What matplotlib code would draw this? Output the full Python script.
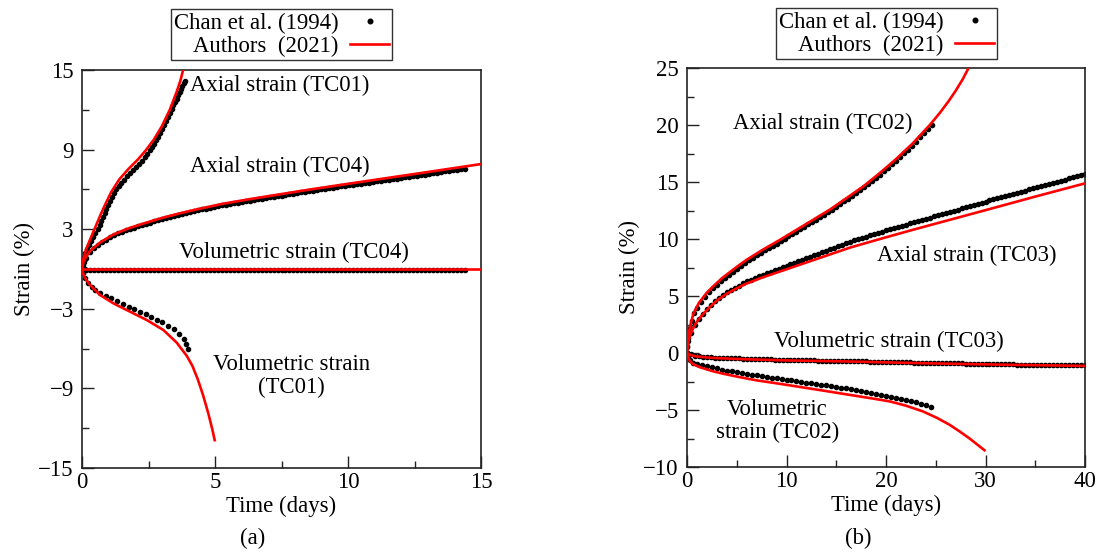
import matplotlib
matplotlib.use("Agg")
import matplotlib.pyplot as plt
from matplotlib.lines import Line2D
from matplotlib.ticker import MultipleLocator, FixedLocator

plt.rcParams['font.family'] = ['Liberation Serif', 'DejaVu Serif']
plt.rcParams['mathtext.fontset'] = 'stix'

# ---------------- Panel (a) data ----------------
# Chan et al. (1994) - TC01 axial
t_tc01_ax_dots = [0.0, 0.015, 0.04, 0.08, 0.13, 0.19, 0.26, 0.33, 0.41, 0.5, 0.6,
                  0.66, 0.72, 0.78, 0.85, 0.92, 0.99, 1.06, 1.13, 1.21, 1.28,
                  1.38, 1.48, 1.58, 1.69, 1.80, 1.91, 2.02, 2.13, 2.24, 2.35, 2.45, 2.54, 2.62,
                  2.70, 2.78, 2.86, 2.94, 3.02, 3.09, 3.16, 3.23, 3.30, 3.37, 3.43,
                  3.50, 3.56, 3.62, 3.67, 3.72, 3.77, 3.82, 3.86]
s_tc01_ax_dots = [0.0, 0.3, 0.6, 0.9, 1.2, 1.5, 1.8, 2.1, 2.4, 2.7, 3.0,
                  3.3, 3.6, 3.9, 4.2, 4.5, 4.8, 5.1, 5.4, 5.7, 6.0,
                  6.25, 6.5, 6.74, 6.98, 7.22, 7.45, 7.68, 7.92, 8.16, 8.42, 8.68, 8.95, 9.2,
                  9.45, 9.72, 9.98, 10.25, 10.55, 10.85, 11.15, 11.45, 11.75, 12.05, 12.35,
                  12.6, 12.85, 13.1, 13.35, 13.6, 13.8, 14.0, 14.2]
# Chan et al. (1994) - TC01 volumetric
t_tc01_vol_dots = [0.0, 0.05, 0.11, 0.24, 0.36, 0.49, 0.68, 0.90, 1.09, 1.30, 1.53, 1.75,
                   1.95, 2.18, 2.39, 2.59, 2.81, 3.01, 3.23, 3.46, 3.66, 3.82, 3.92, 3.97]
s_tc01_vol_dots = [0.0, -0.33, -0.70, -1.08, -1.33, -1.55, -1.80, -2.02, -2.20, -2.40, -2.62, -2.83,
                   -3.02, -3.22, -3.42, -3.62, -3.83, -4.03, -4.28, -4.56, -4.90, -5.28, -5.68, -6.03]
# Chan et al. (1994) - TC04
t_tc04_dots = [0.0, 0.02, 0.06, 0.1, 0.15, 0.3, 0.45, 0.6, 0.75, 0.9, 1.05, 1.2, 1.35, 1.5,
               1.65, 1.8, 1.95, 2.1, 2.25, 2.4, 2.55, 2.7, 2.85, 3.0, 3.15, 3.3, 3.45, 3.6,
               3.75, 3.9, 4.05, 4.2, 4.35, 4.5, 4.65, 4.8, 4.95, 5.1, 5.25, 5.4, 5.55, 5.7,
               5.85, 6.0, 6.15, 6.3, 6.45, 6.6, 6.75, 6.9, 7.05, 7.2, 7.35, 7.5, 7.65, 7.8,
               7.95, 8.1, 8.25, 8.4, 8.55, 8.7, 8.85, 9.0, 9.15, 9.3, 9.45, 9.6, 9.75, 9.9,
               10.05, 10.2, 10.35, 10.5, 10.65, 10.8, 10.95, 11.1, 11.25, 11.4, 11.55, 11.7,
               11.85, 12.0, 12.15, 12.3, 12.45, 12.6, 12.75, 12.9, 13.05, 13.2, 13.35, 13.5,
               13.65, 13.8, 13.95, 14.1, 14.25, 14.4]
s_tc04_ax_dots = [0.0, 0.3, 0.55, 0.72, 0.85, 1.30, 1.56, 1.82, 2.03, 2.20, 2.38, 2.56,
                  2.68, 2.80, 2.92, 3.04, 3.12, 3.22, 3.32, 3.41, 3.50, 3.59, 3.68, 3.76,
                  3.85, 3.93, 4.00, 4.08, 4.15, 4.22, 4.29, 4.36, 4.43, 4.49, 4.55, 4.61,
                  4.68, 4.74, 4.81, 4.86, 4.91, 4.95, 5.01, 5.06, 5.11, 5.16, 5.21, 5.26,
                  5.30, 5.34, 5.39, 5.44, 5.49, 5.54, 5.59, 5.63, 5.68, 5.73, 5.77, 5.82,
                  5.87, 5.91, 5.96, 6.00, 6.04, 6.08, 6.13, 6.17, 6.22, 6.26, 6.30, 6.34,
                  6.39, 6.43, 6.48, 6.52, 6.56, 6.60, 6.64, 6.69, 6.73, 6.77, 6.81, 6.86,
                  6.91, 6.95, 6.99, 7.03, 7.08, 7.12, 7.16, 7.21, 7.25, 7.30, 7.35, 7.39,
                  7.43, 7.47, 7.52, 7.56]
s_tc04_vol_dots = [0.0, -0.01, -0.02, -0.03, -0.04, -0.04, -0.05, -0.05, -0.05, -0.05,
                   -0.05, -0.05, -0.05, -0.05, -0.05, -0.05, -0.05, -0.05, -0.05, -0.05,
                   -0.05, -0.06, -0.05, -0.06, -0.06, -0.06, -0.06, -0.06, -0.06, -0.06,
                   -0.06, -0.06, -0.06, -0.06, -0.06, -0.06, -0.06, -0.06, -0.06, -0.06,
                   -0.06, -0.06, -0.06, -0.06, -0.06, -0.06, -0.06, -0.07, -0.06, -0.07,
                   -0.07, -0.07, -0.07, -0.07, -0.07, -0.07, -0.07, -0.07, -0.07, -0.07,
                   -0.07, -0.07, -0.07, -0.07, -0.07, -0.07, -0.07, -0.07, -0.07, -0.07,
                   -0.07, -0.07, -0.07, -0.07, -0.07, -0.07, -0.07, -0.07, -0.07, -0.07,
                   -0.07, -0.07, -0.07, -0.07, -0.07, -0.07, -0.07, -0.07, -0.07, -0.07,
                   -0.07, -0.07, -0.07, -0.07, -0.07, -0.07, -0.07, -0.07, -0.07, -0.07]
# Authors (2021) - model curves, panel (a)
t_tc01_ax_line = [0, 0.05, 0.15, 0.3, 0.5, 0.7, 0.9, 1.1, 1.4, 1.75, 2.1, 2.4, 2.7, 3.0,
                  3.3, 3.55, 3.7, 3.8, 3.85]
s_tc01_ax_line = [0, 0.75, 1.45, 2.2, 3.15, 4.1, 4.98, 5.8, 6.75, 7.55, 8.25, 8.95, 9.75, 10.75,
                  12.0, 13.3, 14.2, 15.0, 15.5]
t_tc01_vol_line = [0, 0.05, 0.15, 0.3, 0.43, 0.68, 1.18, 1.8, 2.43, 3.06, 3.56, 3.94, 4.15,
                   4.35, 4.55, 4.75, 4.9, 5.0]
s_tc01_vol_line = [0, -0.4, -0.8, -1.2, -1.46, -1.96, -2.59, -3.21, -3.84, -4.6, -5.55, -6.55,
                   -7.3, -8.3, -9.5, -10.9, -12.1, -13.0]
t_tc04_ax_line = [0, 0.05, 0.15, 0.3, 0.68, 1.18, 1.8, 2.43, 3.06, 3.68, 4.44, 5.3, 6.32,
                  8.5, 10.7, 12.9, 15.0]
s_tc04_ax_line = [0, 0.5, 0.9, 1.35, 2.0, 2.6, 3.1, 3.5, 3.88, 4.2, 4.55, 4.92, 5.27,
                  5.97, 6.63, 7.28, 7.91]
t_tc04_vol_line = [0, 15.0]
s_tc04_vol_line = [0, 0]

# ---------------- Panel (b) data ----------------
t_tc02_ax_dots = [0.0, 0.05, 0.15, 0.3, 0.5, 0.75, 1.0, 1.4, 1.8, 2.2, 2.6, 3.0, 3.4, 3.8,
                  4.2, 4.6, 5.0, 5.4, 5.8, 6.2, 6.6, 7.0, 7.4, 7.8, 8.2, 8.6, 9.0, 9.4, 9.8,
                  10.2, 10.6, 11.0, 11.4, 11.8, 12.2, 12.6, 13.0, 13.4, 13.8, 14.2, 14.6,
                  15.0, 15.4, 15.8, 16.2, 16.6, 17.0, 17.4, 17.8, 18.2, 18.6, 19.0, 19.4,
                  19.8, 20.2, 20.6, 21.0, 21.4, 21.8, 22.2, 22.6, 23.0, 23.4, 23.8, 24.2, 24.6]
s_tc02_ax_dots = [0.0, 0.6, 1.35, 2.15, 2.85, 3.5, 3.91, 4.48, 4.93, 5.32, 5.67, 5.99, 6.32,
                  6.60, 6.87, 7.13, 7.40, 7.66, 7.91, 8.14, 8.36, 8.58, 8.80, 9.00, 9.20,
                  9.40, 9.60, 9.81, 10.03, 10.24, 10.45, 10.65, 10.86, 11.07, 11.29, 11.50,
                  11.71, 11.92, 12.13, 12.34, 12.57, 12.81, 13.06, 13.30, 13.54, 13.78,
                  14.03, 14.27, 14.52, 14.80, 15.09, 15.37, 15.65, 15.95, 16.25, 16.55,
                  16.85, 17.18, 17.51, 17.84, 18.17, 18.53, 18.91, 19.29, 19.66, 20.04]
t_tc02_vol_dots = [0.0, 0.1, 0.3, 0.6, 1.0, 1.5, 2.0, 2.5, 3.0, 3.5, 4.0, 4.5, 5.0, 5.5,
                   6.0, 6.5, 7.0, 7.5, 8.0, 8.5, 9.0, 9.5, 10.0, 10.5, 11.0, 11.5, 12.0,
                   12.5, 13.0, 13.5, 14.0, 14.5, 15.0, 15.5, 16.0, 16.5, 17.0, 17.5, 18.0,
                   18.5, 19.0, 19.5, 20.0, 20.5, 21.0, 21.5, 22.0, 22.5, 23.0, 23.5, 24.0, 24.5]
s_tc02_vol_dots = [0.0, -0.3, -0.6, -0.85, -0.97, -1.05, -1.15, -1.25, -1.35, -1.45, -1.55,
                   -1.62, -1.69, -1.76, -1.83, -1.90, -1.97, -2.03, -2.10, -2.16, -2.22,
                   -2.29, -2.35, -2.41, -2.47, -2.53, -2.59, -2.66, -2.72, -2.78, -2.84,
                   -2.91, -2.98, -3.05, -3.11, -3.18, -3.25, -3.33, -3.41, -3.49, -3.57,
                   -3.65, -3.73, -3.82, -3.91, -4.00, -4.10, -4.20, -4.33, -4.46, -4.60, -4.77]
t_tc03_dots = [0.0, 0.05, 0.15,
               0.4, 0.8, 1.2, 1.6, 2.0, 2.4, 2.8, 3.2, 3.6, 4.0,
               4.4, 4.8, 5.2, 5.6, 6.0, 6.4, 6.8, 7.2, 7.6, 8.0,
               8.4, 8.8, 9.2, 9.6, 10.0, 10.4, 10.8, 11.2, 11.6, 12.0,
               12.4, 12.8, 13.2, 13.6, 14.0, 14.4, 14.8, 15.2, 15.6, 16.0,
               16.4, 16.8, 17.2, 17.6, 18.0, 18.4, 18.8, 19.2, 19.6, 20.0,
               20.4, 20.8, 21.2, 21.6, 22.0, 22.4, 22.8, 23.2, 23.6, 24.0,
               24.4, 24.8, 25.2, 25.6, 26.0, 26.4, 26.8, 27.2, 27.6, 28.0,
               28.4, 28.8, 29.2, 29.6, 30.0, 30.4, 30.8, 31.2, 31.6, 32.0,
               32.4, 32.8, 33.2, 33.6, 34.0, 34.4, 34.8, 35.2, 35.6, 36.0,
               36.4, 36.8, 37.2, 37.6, 38.0, 38.4, 38.8, 39.2, 39.6, 40.0]
s_tc03_ax_dots = [0.0, 0.55, 1.05,
                  1.74, 2.48, 3.02, 3.45, 3.84, 4.20, 4.54, 4.83, 5.08, 5.33,
                  5.53, 5.72, 5.92, 6.10, 6.28, 6.43, 6.58, 6.72, 6.86, 7.00,
                  7.13, 7.26, 7.39, 7.51, 7.65, 7.78, 7.91, 8.04, 8.17, 8.32,
                  8.45, 8.58, 8.71, 8.84, 8.98, 9.11, 9.23, 9.36, 9.49, 9.63,
                  9.76, 9.87, 9.98, 10.09, 10.20, 10.31, 10.42, 10.53, 10.64, 10.75,
                  10.86, 10.96, 11.06, 11.17, 11.27, 11.37, 11.48, 11.58, 11.68, 11.78,
                  11.88, 11.98, 12.09, 12.18, 12.29, 12.38, 12.48, 12.58, 12.68, 12.78,
                  12.88, 12.98, 13.08, 13.18, 13.27, 13.38, 13.47, 13.57, 13.67, 13.77,
                  13.86, 13.96, 14.06, 14.16, 14.25, 14.35, 14.45, 14.55, 14.64, 14.73,
                  14.83, 14.93, 15.02, 15.11, 15.21, 15.31, 15.40, 15.49, 15.59, 15.68]
s_tc03_vol_dots = [0.0, -0.03, -0.07,
                   -0.13, -0.22, -0.28, -0.31, -0.34, -0.37, -0.40, -0.42, -0.43, -0.44,
                   -0.46, -0.47, -0.48, -0.50, -0.51, -0.52, -0.53, -0.54, -0.55, -0.56,
                   -0.57, -0.58, -0.59, -0.60, -0.61, -0.62, -0.62, -0.63, -0.63, -0.64,
                   -0.65, -0.65, -0.66, -0.66, -0.67, -0.68, -0.68, -0.69, -0.69, -0.70,
                   -0.71, -0.72, -0.72, -0.73, -0.74, -0.75, -0.76, -0.76, -0.77, -0.78,
                   -0.79, -0.80, -0.80, -0.81, -0.82, -0.83, -0.84, -0.84, -0.85, -0.86,
                   -0.87, -0.87, -0.88, -0.89, -0.89, -0.90, -0.91, -0.91, -0.92, -0.93,
                   -0.93, -0.94, -0.94, -0.95, -0.96, -0.96, -0.97, -0.98, -0.98, -0.99,
                   -1.00, -1.00, -1.01, -1.01, -1.02, -1.02, -1.03, -1.03, -1.04, -1.04,
                   -1.05, -1.05, -1.06, -1.06, -1.07, -1.07, -1.08, -1.08, -1.09, -1.09]
# Authors (2021) - model curves, panel (b)
t_tc02_ax_line = [0, 0.1, 0.3, 0.64, 1.2, 2.0, 2.64, 3.5, 4.32, 5.2, 6.0, 7.5, 9.35, 11.0,
                  12.7, 14.4, 16.05, 17.7, 19.4, 21.0, 22.7, 24.4, 25.4, 26.3, 27.0, 27.7, 28.3]
s_tc02_ax_line = [0, 1.2, 2.3, 3.45, 4.4, 5.3, 5.85, 6.55, 7.1, 7.68, 8.18, 9.0, 9.93, 10.8,
                  11.7, 12.6, 13.6, 14.6, 15.8, 17.0, 18.4, 20.0, 21.05, 22.1, 23.0, 24.0, 25.0]
t_tc03_ax_line = [0, 0.05, 0.15, 0.3, 0.6, 1.0, 1.5, 2.2, 3.0, 4.0, 5.0, 6.0, 7.5, 9.35,
                  12.7, 16.4, 20.0, 23.0, 26.4, 30.0, 35.0, 40.0]
s_tc03_ax_line = [0, 0.55, 1.05, 1.5, 2.15, 2.75, 3.3, 3.95, 4.6, 5.2, 5.68, 6.1, 6.6, 7.15,
                  8.15, 9.25, 10.15, 10.88, 11.68, 12.53, 13.72, 14.88]
t_tc03_vol_line = [0, 0.1, 0.3, 0.6, 1, 2, 3, 6, 10, 16, 24, 32, 40]
s_tc03_vol_line = [0, -0.07, -0.15, -0.24, -0.3, -0.39, -0.45, -0.55, -0.65, -0.74, -0.9,
                   -1.03, -1.13]
t_tc02_vol_line = [0, 0.1, 0.3, 0.6, 1.3, 2.6, 3.65, 5.3, 7.0, 8.7, 10.35, 12.0, 13.7, 15.4,
                   17.05, 18.7, 20.4, 22.0, 23.7, 25.1, 26.4, 27.4, 28.4, 29.2, 30.0]
s_tc02_vol_line = [0, -0.35, -0.72, -0.97, -1.25, -1.6, -1.82, -2.12, -2.4, -2.62, -2.84,
                   -3.07, -3.3, -3.54, -3.77, -4.0, -4.25, -4.62, -5.12, -5.68, -6.3, -6.88,
                   -7.5, -8.05, -8.6]

legend_labels = ['Chan et al. (1994)', 'Authors  (2021)']

# ---------------- Figure ----------------
W, H = 1101, 556
fig = plt.figure(figsize=(W / 100, H / 100), dpi=100)
ax1 = fig.add_axes([82 / W, (H - 468) / H, 399 / W, 398 / H])
ax2 = fig.add_axes([687 / W, (H - 467) / H, 398 / W, 399 / H])

FS = 16.4
DOT = dict(ls='none', marker='o', ms=3.0, color='black', zorder=2)
LINE = dict(color='#ff0000', lw=1.9, zorder=3, solid_capstyle='butt')

# panel (a)
ax1.plot(t_tc01_ax_dots, s_tc01_ax_dots, **DOT)
ax1.plot(t_tc01_vol_dots, s_tc01_vol_dots, **DOT)
ax1.plot(t_tc04_dots, s_tc04_ax_dots, **DOT)
ax1.plot(t_tc04_dots, s_tc04_vol_dots, **DOT)
ax1.plot(t_tc01_ax_line, s_tc01_ax_line, **LINE)
ax1.plot(t_tc01_vol_line, s_tc01_vol_line, **LINE)
ax1.plot(t_tc04_ax_line, s_tc04_ax_line, **LINE)
ax1.plot(t_tc04_vol_line, s_tc04_vol_line, **LINE)
ax1.set_xlim(0, 15)
ax1.set_ylim(-15, 15)
ax1.xaxis.set_major_locator(MultipleLocator(5))
ax1.xaxis.set_minor_locator(MultipleLocator(2.5))
ax1.yaxis.set_major_locator(FixedLocator([-15, -9, -3, 3, 9, 15]))
ax1.yaxis.set_minor_locator(FixedLocator([-12, -6, 0, 6, 12]))

ax1.text(7.44, 13.87, 'Axial strain (TC01)', ha='center', va='center', fontsize=FS)
ax1.text(7.44, 7.76, 'Axial strain (TC04)', ha='center', va='center', fontsize=FS)
ax1.text(7.97, 1.28, 'Volumetric strain (TC04)', ha='center', va='center', fontsize=FS)
ax1.text(7.86, -8.07, 'Volumetric strain\n(TC01)', ha='center', va='center', fontsize=FS,
         linespacing=1.1)

# panel (b)
ax2.plot(t_tc02_ax_dots, s_tc02_ax_dots, **DOT)
ax2.plot(t_tc02_vol_dots, s_tc02_vol_dots, **DOT)
ax2.plot(t_tc03_dots, s_tc03_ax_dots, **DOT)
ax2.plot(t_tc03_dots, s_tc03_vol_dots, **DOT)
ax2.plot(t_tc02_ax_line, s_tc02_ax_line, **LINE)
ax2.plot(t_tc03_ax_line, s_tc03_ax_line, **LINE)
ax2.plot(t_tc03_vol_line, s_tc03_vol_line, **LINE)
ax2.plot(t_tc02_vol_line, s_tc02_vol_line, **LINE)
ax2.set_xlim(0, 40)
ax2.set_ylim(-10, 25)
ax2.xaxis.set_major_locator(MultipleLocator(10))
ax2.xaxis.set_minor_locator(MultipleLocator(5))
ax2.yaxis.set_major_locator(MultipleLocator(5))
ax2.yaxis.set_minor_locator(MultipleLocator(2.5))

ax2.text(13.6, 20.1, 'Axial strain (TC02)', ha='center', va='center', fontsize=FS)
ax2.text(28.1, 8.6, 'Axial strain (TC03)', ha='center', va='center', fontsize=FS)
ax2.text(20.3, 0.99, 'Volumetric strain (TC03)', ha='center', va='center', fontsize=FS)
ax2.text(9.1, -5.96, 'Volumetric\nstrain (TC02)', ha='center', va='center', fontsize=FS,
         linespacing=1.1)

for ax, leg_cx, leg_top in ((ax1, 281.5, 9), (ax2, 886.5, 8)):
    for sp in ax.spines.values():
        sp.set_linewidth(1.2)
        sp.set_color('#222222')
    ax.tick_params(which='both', direction='in', top=False, right=False,
                   labelsize=FS, width=1.0, color='#222222')
    ax.tick_params(which='major', length=8.5)
    ax.tick_params(which='minor', length=5)
    ax.tick_params(axis='y', pad=6)
    ax.tick_params(axis='x', pad=3)
    ax.set_xlabel('Time (days)', fontsize=FS, labelpad=2)
    ax.set_ylabel('Strain (%)', fontsize=FS, labelpad=2)
    handles = [Line2D([], [], ls='none', marker='o', ms=3.3, color='black'),
               Line2D([], [], color='#ff0000', lw=1.9)]
    leg = ax.legend(handles, legend_labels, loc='upper center',
                    bbox_to_anchor=(leg_cx / W, 1 - leg_top / H),
                    bbox_transform=fig.transFigure, markerfirst=False,
                    frameon=True, fancybox=False, framealpha=1, edgecolor='#333333',
                    fontsize=FS, handlelength=1.7, handletextpad=0.5,
                    labelspacing=0.08, borderpad=0.15, borderaxespad=0)
    leg.get_frame().set_linewidth(1.0)

fig.text(253 / W, 1 - 538 / H, '(a)', ha='center', va='center', fontsize=FS)
fig.text(858 / W, 1 - 538 / H, '(b)', ha='center', va='center', fontsize=FS)

fig.savefig('out.png', dpi=100)
